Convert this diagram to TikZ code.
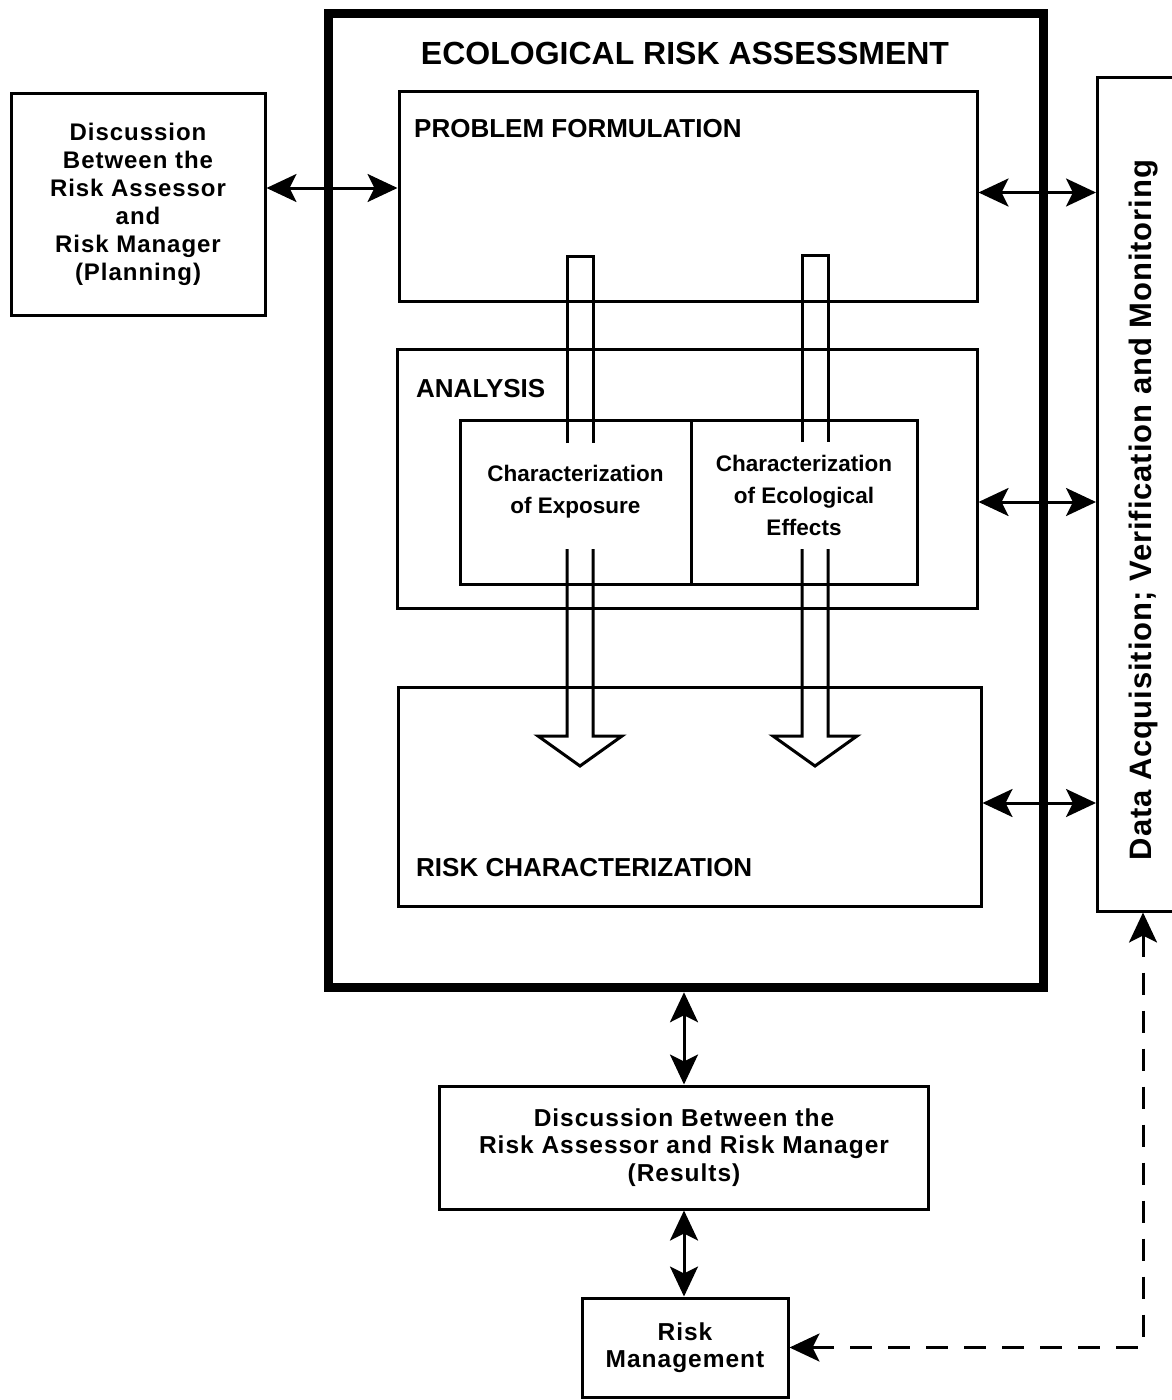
\documentclass[tikz,border=0pt]{standalone}
\usepackage{fontspec}
\setmainfont{Liberation Sans}
\newfontfamily\spaced[LetterSpace=4]{Liberation Sans}
\newfontfamily\wide[LetterSpace=3]{Liberation Sans}
\usetikzlibrary{arrows.meta}

\begin{document}
\begin{tikzpicture}[x=1pt,y=-1pt]
\tikzstyle{box} = [draw,line width=3pt,inner sep=0pt]
\tikzstyle{bigbox} = [draw,line width=9pt,inner sep=0pt]
\tikzstyle{heading} = [inner sep=0pt,anchor=base west,font=\bfseries\fontsize{26}{30}\selectfont]
\tikzstyle{btxt} = [align=center,font=\spaced\bfseries\fontsize{24}{28}\selectfont]
\tikzstyle{rtxt} = [align=center,font=\spaced\bfseries\fontsize{24.5}{27.5}\selectfont]
\tikzstyle{ctxt} = [align=center,inner sep=0pt,font=\bfseries\fontsize{22.5}{32}\selectfont]
\tikzstyle{dbl} = [line width=3pt,{Stealth[length=30pt,width=28pt,inset=7pt]}-{Stealth[length=30pt,width=28pt,inset=7pt]}]
\tikzstyle{hollow} = [line width=3pt,line join=miter]

\useasboundingbox (0,0) rectangle (1172,1400);
\clip (0,0) rectangle (1172,1400);

% outer assessment frame
\node[bigbox,minimum width=715pt,minimum height=974pt] (era) at (685.5,500.75) {};
\node[inner sep=0pt,font=\bfseries\fontsize{32}{36}\selectfont] (title) at (685,53) {ECOLOGICAL RISK ASSESSMENT};

% the three phases
\node[box,minimum width=578pt,minimum height=210pt] (pf) at (688,196) {};
\node[heading] (pftitle) at (414,137) {PROBLEM FORMULATION};

\node[box,minimum width=580pt,minimum height=259pt] (ana) at (687,479) {};
\node[heading] (anatitle) at (416,397) {ANALYSIS};
\node[box,minimum width=231pt,minimum height=164pt] (expo) at (575.5,502) {};
\node[box,minimum width=226pt,minimum height=164pt] (eff) at (804,502) {};
\node[ctxt] (expotext) at ([yshift=10pt]expo.center) {Characterization\\of Exposure};
\node[ctxt] (efftext) at ([yshift=7pt]eff.center) {Characterization\\of Ecological\\Effects};

\node[box,minimum width=583pt,minimum height=219pt] (rc) at (689.5,796.5) {};
\node[heading] (rctitle) at (416,876) {RISK CHARACTERIZATION};

% boxes outside the frame
\node[box,btxt,minimum width=254pt,minimum height=222pt] (plan) at (138,204) {Discussion\\Between the\\Risk Assessor\\and\\Risk Manager\\(Planning)};
\node[box,minimum width=91pt,minimum height=834pt] (data) at (1143,494) {};
\node[rotate=90,inner sep=0pt,font=\wide\bfseries\fontsize{31}{36}\selectfont] (datatext) at (1144,510) {Data Acquisition; Verification and Monitoring};
\node[box,rtxt,minimum width=489pt,minimum height=123pt] (res) at (684,1147.5) {Discussion Between the\\Risk Assessor and Risk Manager\\(Results)};
\node[box,rtxt,minimum width=206pt,minimum height=99pt] (rm) at (685,1347.5) {Risk\\Management};

% hollow arrows through the phases
\draw[hollow] (567,443) -- (567,256) -- (593,256) -- (593,443);
\draw[hollow] (567,549) -- (567,736) -- (538,736) -- (580,766) -- (622,736) -- (593,736) -- (593,549);
\draw[hollow] (802,442) -- (802,255) -- (828,255) -- (828,442);
\draw[hollow] (802,549) -- (802,736) -- (773,736) -- (815,766) -- (857,736) -- (828,736) -- (828,549);

% connectors
\coordinate (planr) at ([yshift=16pt]plan.east);
\coordinate (pfr) at ([yshift=3.5pt]pf.east);
\coordinate (anar) at ([yshift=-23pt]ana.east);
\coordinate (rcr) at ([yshift=-6.5pt]rc.east);
\draw[dbl] (planr) -- (planr -| pf.west);
\draw[dbl] (pfr) -- (pfr -| data.west);
\draw[dbl] (anar) -- (anar -| data.west);
\draw[dbl] (rcr) -- (rcr -| data.west);
\draw[dbl] (era.south -| res.north) -- (res.north);
\draw[dbl] (res.south) -- (res.south |- rm.north);
\draw[dbl,dash pattern=on 22pt off 16pt] (data.south) |- (rm.east);

\end{tikzpicture}
\end{document}
